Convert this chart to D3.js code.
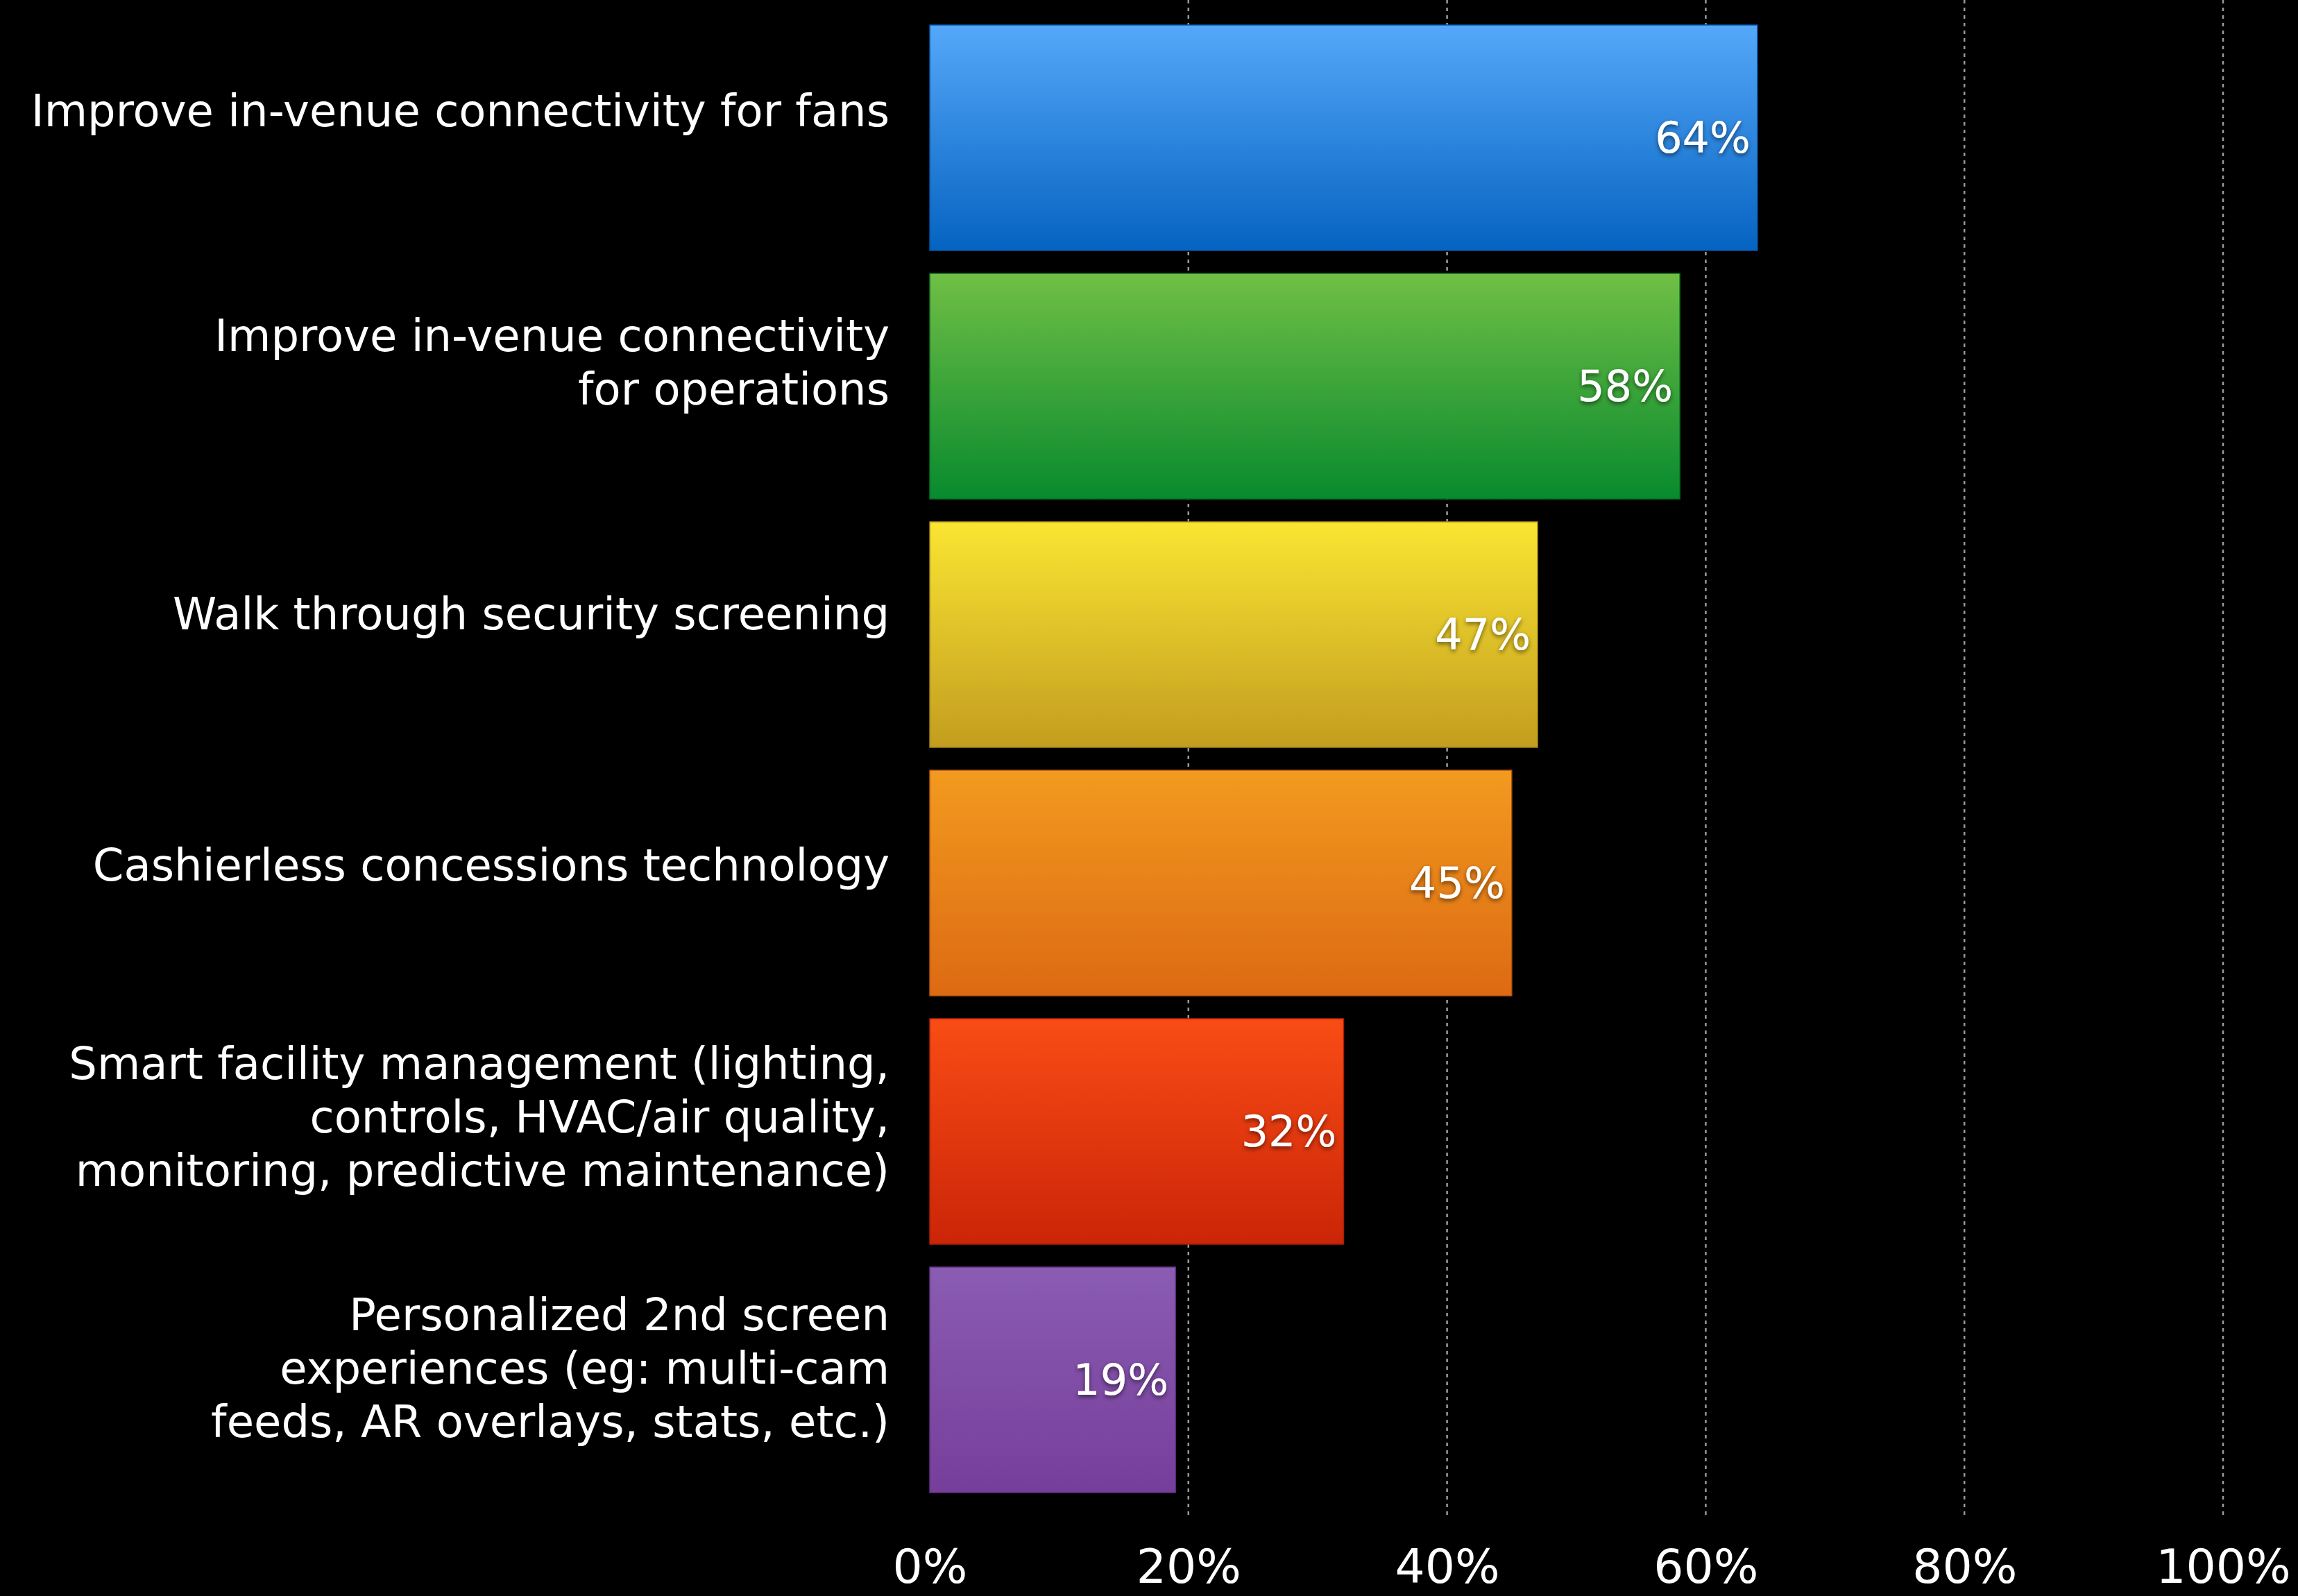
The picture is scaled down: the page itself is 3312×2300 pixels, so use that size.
<!DOCTYPE html>
<html>
<head>
<meta charset="utf-8">
<script src="https://cdn.jsdelivr.net/npm/d3@7"></script>
<style>
  html, body { margin: 0; padding: 0; background: #000; }
  svg { display: block; }
  text { font-family: "DejaVu Sans", "Noto Sans", sans-serif; fill: #fff; }
</style>
</head>
<body>
<svg id="chart" width="3312" height="2300"></svg>
<script>
// Survey responses: share of respondents per technology priority
const categories = [
  ["Improve in-venue connectivity for fans"],
  ["Improve in-venue connectivity", "for operations"],
  ["Walk through security screening"],
  ["Cashierless concessions technology"],
  ["Smart facility management (lighting,", "controls, HVAC/air quality,", "monitoring, predictive maintenance)"],
  ["Personalized 2nd screen", "experiences (eg: multi-cam", "feeds, AR overlays, stats, etc.)"]
];
const values = [64, 58, 47, 45, 32, 19];
const tickValues = [0, 20, 40, 60, 80, 100];
const gradientTops = ["#55a8f9", "#70bf45", "#fae532", "#f29a1f", "#f94c15", "#8a5cb2"];
const gradientBottoms = ["#0563c1", "#088a2e", "#c39d1f", "#dd6a13", "#cb2508", "#763e9b"];

const svg = d3.select("#chart");
const ids = categories.map((_, i) => "cat" + i);

const x = d3.scaleLinear().domain([0, 100]).range([1340, 3204]);
const y = d3.scaleBand().domain(ids).range([36, 2151]).paddingInner(0.092).paddingOuter(0);
// category labels sit on their own, slightly wider spaced, rail
const yLabel = d3.scalePoint().domain(ids).range([160, 1972]);

const defs = svg.append("defs");
ids.forEach((id, i) => {
  const g = defs.append("linearGradient").attr("id", "grad-" + id)
    .attr("x1", 0).attr("y1", 0).attr("x2", 0).attr("y2", 1);
  g.append("stop").attr("offset", "0%").attr("stop-color", gradientTops[i]);
  g.append("stop").attr("offset", "100%").attr("stop-color", gradientBottoms[i]);
});
const shadow = defs.append("filter").attr("id", "labelShadow")
  .attr("x", "-20%").attr("y", "-30%").attr("width", "140%").attr("height", "160%");
shadow.append("feDropShadow").attr("dx", 0).attr("dy", 3).attr("stdDeviation", 3)
  .attr("flood-color", "#000").attr("flood-opacity", 0.55);

// dashed vertical gridlines
svg.append("g").selectAll("line")
  .data(tickValues.filter(d => d > 0))
  .join("line")
  .attr("x1", d => x(d)).attr("x2", d => x(d))
  .attr("y1", 0).attr("y2", 2183)
  .attr("stroke", "#9a9a9a").attr("stroke-width", 2.5)
  .attr("stroke-dasharray", "5,6");

// bars
svg.append("g").selectAll("rect")
  .data(values)
  .join("rect")
  .attr("x", x(0))
  .attr("y", (d, i) => y(ids[i]))
  .attr("width", d => x(d) - x(0))
  .attr("height", y.bandwidth())
  .attr("fill", (d, i) => `url(#grad-${ids[i]})`)
  .attr("stroke", (d, i) => d3.color(gradientBottoms[i]).darker(0.6))
  .attr("stroke-width", 1.5);

// value labels inside bar ends
svg.append("g").selectAll("text")
  .data(values)
  .join("text")
  .attr("x", d => x(d) - 10)
  .attr("y", (d, i) => y(ids[i]) + y.bandwidth() / 2)
  .attr("text-anchor", "end")
  .attr("dominant-baseline", "central")
  .attr("font-size", 62)
  .attr("filter", "url(#labelShadow)")
  .text(d => d + "%");

// category labels, right aligned
const lineHeight = 77;
const labels = svg.append("g").selectAll("text")
  .data(categories)
  .join("text")
  .attr("text-anchor", "end")
  .attr("font-size", 64);
labels.each(function(lines, i) {
  const t = d3.select(this);
  const c = yLabel(ids[i]);
  lines.forEach((line, k) => {
    t.append("tspan")
      .attr("x", 1282)
      .attr("y", c + (k - (lines.length - 1) / 2) * lineHeight)
      .attr("dominant-baseline", "central")
      .text(line);
  });
});

// bottom axis tick labels
const axis = d3.axisBottom(x).tickValues(tickValues).tickFormat(d => d + "%").tickSize(0).tickPadding(0);
const ax = svg.append("g").attr("transform", "translate(0,2210)").call(axis);
ax.select(".domain").remove();
ax.selectAll("text")
  .attr("font-size", 68)
  .attr("dy", "1.05em")
  .style("font-family", '"DejaVu Sans", sans-serif')
  .attr("fill", "#fff");
</script>
</body>
</html>
